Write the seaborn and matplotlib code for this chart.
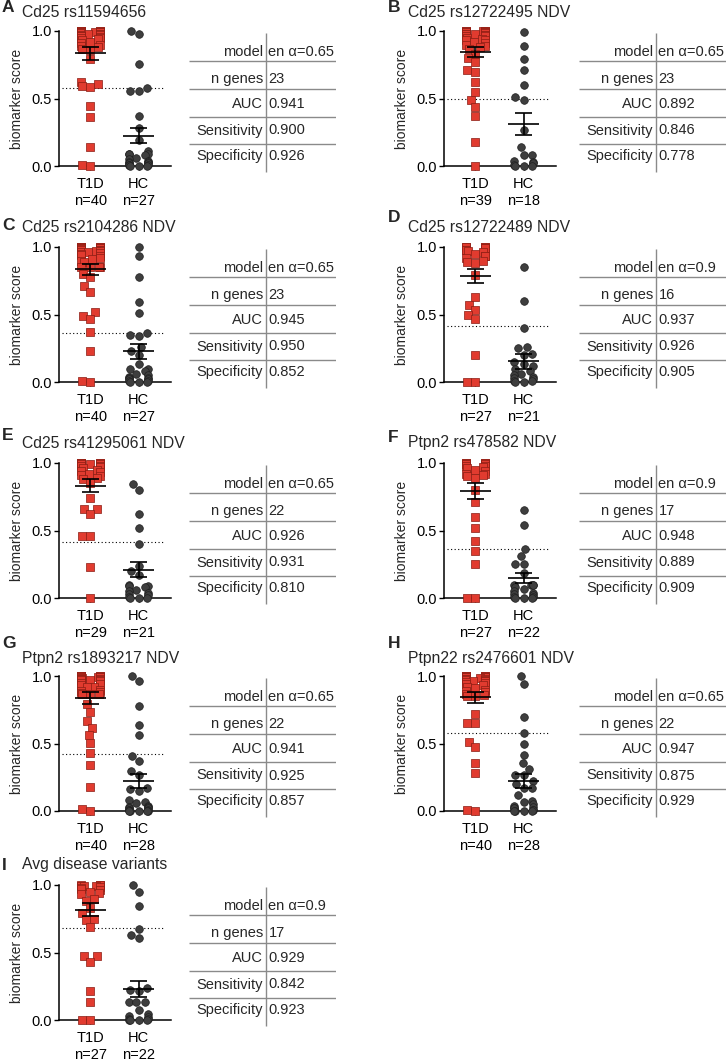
import warnings
warnings.filterwarnings("ignore")
import numpy as np
import pandas as pd
import matplotlib
matplotlib.use("Agg")
import matplotlib.pyplot as plt
import seaborn as sns

sns.set_style("ticks")
plt.rcParams['font.family'] = ['Liberation Sans', 'DejaVu Sans']

# ---------------- data ----------------
panel_ids = ["A", "B", "C", "D", "E", "F", "G", "H", "I"]
titles = ["Cd25 rs11594656", "Cd25 rs12722495 NDV", "Cd25 rs2104286 NDV",
          "Cd25 rs12722489 NDV", "Cd25 rs41295061 NDV", "Ptpn2 rs478582 NDV",
          "Ptpn2 rs1893217 NDV", "Ptpn22 rs2476601 NDV", "Avg disease variants"]

A_t1d = [1.0, 1.0, 1.0, 1.0, 1.0, 0.995, 0.995, 0.99, 0.99, 0.99, 0.985, 0.98, 0.98, 0.975,
         0.97, 0.97, 0.965, 0.96, 0.955, 0.95, 0.945, 0.94, 0.93, 0.92, 0.91, 0.90, 0.89,
         0.88, 0.87, 0.86, 0.79, 0.625, 0.607, 0.595, 0.588, 0.444, 0.36, 0.14, 0.0, 0.01]
A_hc = [1.0, 0.975, 0.755, 0.575, 0.556, 0.556, 0.37, 0.284, 0.19, 0.11, 0.09, 0.09, 0.09,
        0.08, 0.06, 0.05, 0.04, 0.03, 0.03, 0.02, 0.02, 0.01, 0.01, 0.01, 0.0, 0.0, 0.0]
B_t1d = [1.0, 1.0, 1.0, 1.0, 1.0, 0.995, 0.995, 0.99, 0.99, 0.985, 0.98, 0.98, 0.975,
         0.97, 0.97, 0.965, 0.96, 0.95, 0.94, 0.93, 0.93, 0.92, 0.91, 0.90, 0.89, 0.88, 0.87,
         0.83, 0.80, 0.77, 0.71, 0.70, 0.62, 0.55, 0.49, 0.44, 0.37, 0.18, 0.0]
B_hc = [0.99, 0.89, 0.79, 0.71, 0.60, 0.51, 0.49, 0.27, 0.14, 0.08, 0.08, 0.04, 0.03,
        0.02, 0.01, 0.0, 0.0, 0.0]
C_t1d = [1.0, 1.0, 1.0, 1.0, 1.0, 0.995, 0.995, 0.99, 0.99, 0.985, 0.98, 0.98, 0.975,
         0.97, 0.97, 0.965, 0.96, 0.955, 0.95, 0.94, 0.93, 0.92, 0.91, 0.90, 0.89,
         0.85, 0.85, 0.85, 0.85, 0.80, 0.78, 0.71, 0.67, 0.52, 0.49, 0.47, 0.37, 0.23, 0.01, 0.0]
C_hc = [1.0, 0.93, 0.78, 0.59, 0.51, 0.36, 0.35, 0.34, 0.26, 0.23, 0.20, 0.13, 0.10, 0.10,
        0.08, 0.06, 0.05, 0.04, 0.03, 0.03, 0.02, 0.02, 0.01, 0.01, 0.0, 0.0, 0.0]
D_t1d = [1.0, 1.0, 1.0, 1.0, 0.995, 0.99, 0.99, 0.98, 0.98, 0.97, 0.96, 0.95, 0.93, 0.93,
         0.92, 0.90, 0.89, 0.88, 0.79, 0.63, 0.57, 0.53, 0.50, 0.47, 0.20, 0.0, 0.0]
D_hc = [0.85, 0.60, 0.40, 0.26, 0.25, 0.21, 0.20, 0.15, 0.13, 0.12, 0.10, 0.08, 0.06, 0.05,
        0.04, 0.03, 0.02, 0.01, 0.01, 0.0, 0.0]
E_t1d = [1.0, 1.0, 1.0, 1.0, 1.0, 0.995, 0.99, 0.99, 0.98, 0.98, 0.97, 0.96, 0.95, 0.94,
         0.93, 0.92, 0.91, 0.90, 0.89, 0.88, 0.85, 0.74, 0.66, 0.66, 0.62, 0.46, 0.46, 0.23, 0.0]
E_hc = [0.845, 0.80, 0.62, 0.515, 0.40, 0.24, 0.20, 0.17, 0.10, 0.09, 0.09, 0.08, 0.06,
        0.05, 0.04, 0.03, 0.02, 0.01, 0.0, 0.0, 0.0]
F_t1d = [1.0, 1.0, 1.0, 1.0, 0.995, 0.99, 0.99, 0.98, 0.98, 0.97, 0.96, 0.95, 0.94, 0.92,
         0.915, 0.91, 0.90, 0.89, 0.80, 0.71, 0.60, 0.52, 0.42, 0.35, 0.25, 0.0, 0.0]
F_hc = [0.65, 0.54, 0.365, 0.31, 0.25, 0.25, 0.185, 0.10, 0.10, 0.10, 0.10, 0.08, 0.07,
        0.05, 0.04, 0.03, 0.02, 0.01, 0.01, 0.0, 0.0, 0.0]
G_t1d = [1.0, 1.0, 1.0, 1.0, 1.0, 0.995, 0.995, 0.99, 0.99, 0.985, 0.98, 0.98, 0.975,
         0.97, 0.97, 0.97, 0.96, 0.95, 0.94, 0.93, 0.92, 0.915, 0.90, 0.89, 0.88, 0.875,
         0.87, 0.865, 0.864, 0.79, 0.736, 0.667, 0.617, 0.563, 0.506, 0.432, 0.341, 0.18,
         0.0, 0.012]
G_hc = [1.0, 0.96, 0.78, 0.64, 0.56, 0.41, 0.37, 0.30, 0.27, 0.17, 0.16, 0.15, 0.08, 0.07,
        0.06, 0.04, 0.03, 0.03, 0.02, 0.02, 0.01, 0.01, 0.01, 0.0, 0.0, 0.0, 0.0, 0.0]
H_t1d = [1.0, 1.0, 1.0, 1.0, 1.0, 0.995, 0.995, 0.99, 0.99, 0.985, 0.98, 0.98, 0.975,
         0.97, 0.97, 0.965, 0.96, 0.96, 0.955, 0.95, 0.94, 0.93, 0.92, 0.91, 0.90, 0.89,
         0.88, 0.87, 0.86, 0.855, 0.85, 0.72, 0.655, 0.655, 0.514, 0.477, 0.353, 0.284,
         0.0, 0.01]
H_hc = [1.0, 0.94, 0.70, 0.575, 0.496, 0.415, 0.353, 0.311, 0.267, 0.265, 0.222, 0.198,
        0.173, 0.17, 0.118, 0.074, 0.07, 0.05, 0.04, 0.03, 0.02, 0.02, 0.01, 0.01, 0.0,
        0.0, 0.0, 0.0]
I_t1d = [1.0, 1.0, 1.0, 0.995, 0.99, 0.99, 0.985, 0.98, 0.97, 0.96, 0.95, 0.94, 0.93,
         0.896, 0.88, 0.833, 0.79, 0.75, 0.74, 0.69, 0.473, 0.473, 0.433, 0.216, 0.13, 0.0, 0.0]
I_hc = [1.0, 0.95, 0.843, 0.677, 0.632, 0.607, 0.24, 0.224, 0.216, 0.134, 0.134, 0.134,
        0.075, 0.042, 0.03, 0.02, 0.01, 0.01, 0.0, 0.0, 0.0, 0.0]

t1d_scores = [A_t1d, B_t1d, C_t1d, D_t1d, E_t1d, F_t1d, G_t1d, H_t1d, I_t1d]
hc_scores = [A_hc, B_hc, C_hc, D_hc, E_hc, F_hc, G_hc, H_hc, I_hc]

t1d_mean = [0.835, 0.847, 0.834, 0.786, 0.832, 0.793, 0.835, 0.842, 0.818]
t1d_sem = [0.050, 0.036, 0.042, 0.053, 0.046, 0.058, 0.045, 0.042, 0.046]
hc_mean = [0.225, 0.309, 0.226, 0.155, 0.209, 0.148, 0.222, 0.222, 0.229]
hc_sem = [0.058, 0.082, 0.055, 0.055, 0.056, 0.037, 0.055, 0.053, 0.062]
thresholds = [0.578, 0.50, 0.362, 0.418, 0.416, 0.365, 0.42, 0.575, 0.68]

table_rows = ["model", "n genes", "AUC", "Sensitivity", "Specificity"]
models = ["en α=0.65", "en α=0.65", "en α=0.65", "en α=0.9", "en α=0.65",
          "en α=0.9", "en α=0.65", "en α=0.65", "en α=0.9"]
n_genes = ["23", "23", "23", "16", "22", "17", "22", "22", "17"]
auc = ["0.941", "0.892", "0.945", "0.937", "0.926", "0.948", "0.941", "0.947", "0.929"]
sensitivity = ["0.900", "0.846", "0.950", "0.926", "0.931", "0.889", "0.925", "0.875", "0.842"]
specificity = ["0.926", "0.778", "0.852", "0.905", "0.810", "0.909", "0.857", "0.929", "0.923"]
groups = ["T1D", "HC"]

# ---------------- layout (pixels) ----------------
W, H = 726, 1061
fig = plt.figure(figsize=(W / 100, H / 100), dpi=100)


def rect(left, top, w, h):
    return [left / W, 1 - (top + h) / H, w / W, h / H]


row_tops = [31, 247, 463, 676, 885]
col_axis_x = [59, 444]
col_title_x = [22, 408]
col_letter_x = [2, 388]
title_y = [12.5, 12.5, 227, 227, 443, 442, 658, 658, 865]
letter_y = [8, 8, 226, 218, 435, 437, 643, 643, 865]
AX_W, AX_H = 112, 135
# an empty spacer slot between the two groups keeps each swarm narrow
slot_order = ["T1D", " ", "HC"]
POS = {"T1D": 0, "HC": 2}

RED = "#e13b2f"
RED_EDGE = "#8a1c12"
GREY = "#3e3e3e"
GREY_EDGE = "#1e1e1e"
LINE_GREY = "#8a8a8a"
FS = 10.5

for i, pid in enumerate(panel_ids):
    col = i % 2
    row = i // 2
    top = row_tops[row]
    x0 = col_axis_x[col]
    ax = fig.add_axes(rect(x0, top, AX_W, AX_H))

    df = pd.DataFrame({
        "group": ["T1D"] * len(t1d_scores[i]) + ["HC"] * len(hc_scores[i]),
        "score": list(t1d_scores[i]) + list(hc_scores[i]),
    })
    sns.swarmplot(data=df[df.group == "T1D"], x="group", y="score", order=slot_order,
                  marker="s", color=RED, edgecolor=RED_EDGE, linewidth=0.5,
                  size=5.2, ax=ax, zorder=3)
    sns.swarmplot(data=df[df.group == "HC"], x="group", y="score", order=slot_order,
                  marker="o", color=GREY, edgecolor=GREY_EDGE, linewidth=0.5,
                  size=5.5, ax=ax, zorder=3)
    for c in ax.collections:
        c.set_clip_on(False)

    # mean +/- SEM
    for g, m, s in [("T1D", t1d_mean[i], t1d_sem[i]), ("HC", hc_mean[i], hc_sem[i])]:
        pos = POS[g]
        ax.hlines(m, pos - 0.66, pos + 0.66, color="black", lw=1.2, zorder=5, clip_on=False)
        ax.hlines([m - s, m + s], pos - 0.34, pos + 0.34, color="black", lw=1.2, zorder=5,
                  clip_on=False)
        ax.vlines(pos, m - s, m + s, color="black", lw=1.2, zorder=5, clip_on=False)

    ax.axhline(thresholds[i], xmin=0.03, xmax=0.95, color="black", lw=0.8,
               ls=(0, (1, 2.2)), zorder=2)

    ax.set_xlim(-1.31, 3.35)
    ax.set_ylim(0, 1.0)
    ax.set_yticks([0, 0.5, 1.0])
    ax.set_yticklabels(["0.0", "0.5", "1.0"], fontsize=FS)
    ax.set_xticks([POS["T1D"], POS["HC"]])
    ax.set_xticklabels([f"T1D\nn={len(t1d_scores[i])}", f"HC\nn={len(hc_scores[i])}"],
                       fontsize=FS)
    for lbl in ax.get_xticklabels():
        lbl.set_linespacing(1.25)
    ax.set_xlabel("")
    ax.set_ylabel("biomarker score", fontsize=10)
    ax.yaxis.set_label_coords(-0.315, 0.5)
    ax.tick_params(axis="y", length=3.5, width=1.0, pad=1.5, colors="black")
    ax.tick_params(axis="x", length=3, width=1.0, pad=5, colors="black")
    for sp in ["top", "right"]:
        ax.spines[sp].set_visible(False)
    for sp in ["left", "bottom"]:
        ax.spines[sp].set_linewidth(1.1)
        ax.spines[sp].set_color("black")
        ax.spines[sp].set_zorder(1)

    # title and panel letter
    fig.text(col_title_x[col] / W, 1 - title_y[i] / H, titles[i], fontsize=11.3,
             ha="left", va="center")
    fig.text(col_letter_x[col] / W, 1 - letter_y[i] / H, pid, fontsize=12.5,
             fontweight="bold", ha="left", va="center")

    # table
    tx0 = x0 + 130 if col == 0 else x0 + 135
    tax = fig.add_axes(rect(tx0, top, 147, 145))
    tax.set_xlim(0, 147)
    tax.set_ylim(145, 0)
    tax.axis("off")
    for yl in [30, 58, 86, 113]:
        tax.plot([0, 147], [yl, yl], color=LINE_GREY, lw=1.0, solid_capstyle="butt")
    tax.plot([77, 77], [2, 141], color=LINE_GREY, lw=1.0, solid_capstyle="butt")
    vals = [models[i], n_genes[i], auc[i], sensitivity[i], specificity[i]]
    for yc, lab, v in zip([21, 48, 73, 99.5, 125], table_rows, vals):
        tax.text(74, yc, lab, fontsize=FS, ha="right", va="center")
        tax.text(79.5, yc, v, fontsize=FS, ha="left", va="center")

fig.savefig("out.png", dpi=100)
